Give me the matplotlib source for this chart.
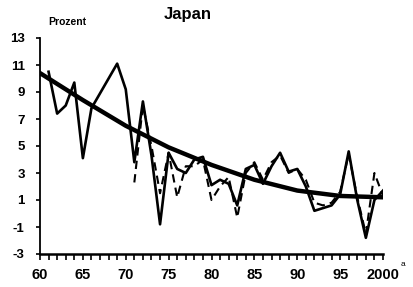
import matplotlib
matplotlib.use("Agg")
import matplotlib.pyplot as plt
import numpy as np

plt.rcParams['font.family'] = ['Liberation Sans', 'DejaVu Sans']

# --- data ---
years_solid = list(range(1961, 2001))
solid = [10.5, 7.4, 8.0, 9.7, 4.1, 7.8, 8.9, 10.0, 11.1, 9.2,
         3.8, 8.3, 4.3, -0.8, 4.5, 3.3, 3.0, 4.0, 4.2, 2.1,
         2.5, 2.2, 0.6, 3.3, 3.6, 2.2, 3.5, 4.5, 3.1, 3.3,
         2.0, 0.2, 0.4, 0.6, 1.4, 4.6, 1.0, -1.8, 1.0, 1.7]

years_dashed = list(range(1971, 2001))
dashed = [2.3, 8.0, 5.0, 1.5, 4.5, 1.2, 3.5, 3.5, 4.0, 1.0,
          2.0, 2.7, -0.3, 3.0, 3.8, 2.5, 3.8, 4.3, 3.0, 3.3,
          2.5, 0.8, 0.6, 0.8, 1.6, 4.4, 1.2, -1.5, 3.0, 1.3]

years_trend = [1960, 1965, 1970, 1975, 1980, 1985, 1990, 1995, 2000]
trend = [10.4, 8.4, 6.5, 4.9, 3.6, 2.5, 1.7, 1.3, 1.2]

x_ticks = [1960, 1965, 1970, 1975, 1980, 1985, 1990, 1995, 2000]
x_labels = ['60', '65', '70', '75', '80', '85', '90', '95', '2000']
y_ticks = [-3, -1, 1, 3, 5, 7, 9, 11, 13]

W, H = 413, 287
fig = plt.figure(figsize=(W / 100, H / 100), dpi=100)
ax = fig.add_axes([40 / W, 1 - 254 / H, (383 - 40) / W, (254 - 38) / H])

ax.plot(years_solid, solid, color='black', lw=1.9, solid_joinstyle='round')
ax.plot(years_dashed, dashed, color='black', lw=1.5, dashes=(4, 2.5))
ax.plot(years_trend, trend, color='black', lw=3.2, solid_joinstyle='round')

ax.set_xlim(1960, 2000)
ax.set_ylim(-3, 13)
ax.set_yticks(y_ticks)
ax.set_yticklabels([str(v) for v in y_ticks], fontsize=9.5, fontweight='bold')
ax.set_xticks(x_ticks)
ax.set_xticklabels(x_labels, fontsize=10.5, fontweight='bold')
ax.set_xticks(list(range(1960, 2001)), minor=True)
ax.tick_params(axis='x', which='both', direction='out', length=4, width=1.2, pad=6)
ax.tick_params(axis='y', which='major', direction='out', length=3, width=1.2, pad=8)

for s in ['top', 'right']:
    ax.spines[s].set_visible(False)
ax.spines['left'].set_linewidth(1.3)
ax.spines['bottom'].set_linewidth(1.8)

fig.text(188 / W, 1 - 15 / H, 'Japan', ha='center', va='center',
         fontsize=12, fontweight='bold')
fig.text(67 / W, 1 - 22 / H, 'Prozent', ha='center', va='center',
         fontsize=7.5, fontweight='bold')
fig.text(403 / W, 1 - 265 / H, 'a', ha='center', va='center', fontsize=6)

fig.savefig('out.png', dpi=100)
